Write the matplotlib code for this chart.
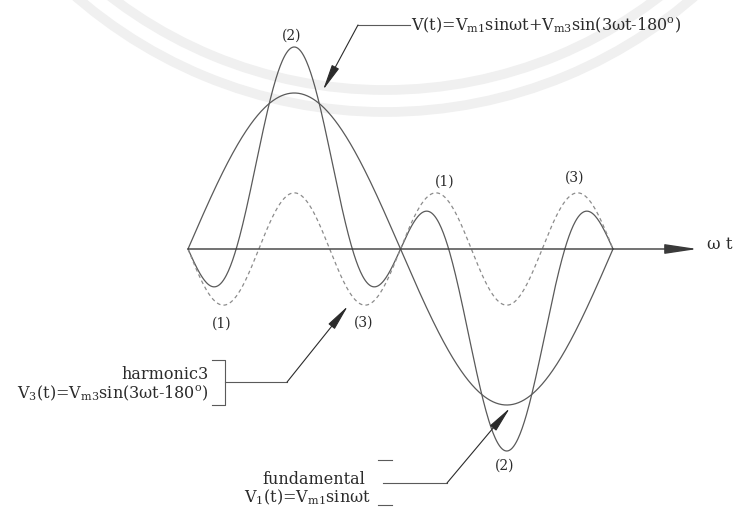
import numpy as np
import matplotlib.pyplot as plt
from matplotlib.patches import Arc

plt.rcParams['font.family'] = ['DejaVu Serif']
plt.rcParams['mathtext.default'] = 'regular'

# amplitudes (per unit of the fundamental)
fund_amp = 1.0          # V_m1 of the fundamental curve
harm_amp = 0.36         # V_m3 of the 3rd harmonic (dashed)
sum_fund_amp = 0.73     # components used for the resultant curve
sum_harm_amp = 0.565
harm_order = 3
harm_phase_deg = -180

wt = np.linspace(0, 2 * np.pi, 600)
fund = fund_amp * np.sin(wt)
harm = harm_amp * np.sin(harm_order * wt + np.radians(harm_phase_deg))
total = sum_fund_amp * np.sin(wt) + sum_harm_amp * np.sin(harm_order * wt + np.radians(harm_phase_deg))

# peak markers: label, ωt, v
peak_tags = ["(2)", "(1)", "(3)", "(1)", "(3)", "(2)"]
peak_x = [1.53, 0.50, 2.60, 3.79, 5.71, 4.68]
peak_y = [1.37, -0.48, -0.47, 0.43, 0.46, -1.39]

line_c = '#5a5a5a'
text_c = '#2b2b2b'
fs = 11.5

fig = plt.figure(figsize=(7.34, 5.07), dpi=100)

# faint circular watermark bands in the background
bg = fig.add_axes([0, 0, 1, 1], zorder=0)
bg.set_xlim(0, 734)
bg.set_ylim(507, 0)
bg.axis('off')
for r in (450, 472):
    bg.add_patch(Arc((385, -360), 2 * r, 2 * r, theta1=0, theta2=360,
                     lw=7, color='#f0f0f0'))

ax = fig.add_axes([0, 0, 1, 1], zorder=1)
ax.patch.set_visible(False)
sx = 425 / (2 * np.pi)
sy = 156
ax.set_xlim(-188 / sx, (734 - 188) / sx)
ax.set_ylim(-(507 - 249) / sy, 249 / sy)
ax.axis('off')

# ωt axis with arrow
ax.annotate('', xy=(7.53, 0), xytext=(0, 0),
            arrowprops=dict(arrowstyle='-|>,head_length=2.0,head_width=0.3',
                            color='#3a3a3a', lw=1.0, shrinkA=0, shrinkB=0))
ax.text(7.67, 0.03, 'ω t', fontsize=12, color=text_c, va='center', ha='left')

ax.plot(wt, fund, color=line_c, lw=0.9)
ax.plot(wt, total, color=line_c, lw=0.9)
ax.plot(wt, harm, color='#8c8c8c', lw=0.9, ls=(0, (3, 2.5)))

for tag, x, y in zip(peak_tags, peak_x, peak_y):
    ax.text(x, y, tag, fontsize=10, color=text_c, ha='center', va='center')

arrow_kw = dict(arrowstyle='-|>,head_length=1.6,head_width=0.25',
                color='#2b2b2b', lw=0.8, shrinkA=0, shrinkB=0)

# resultant label
ax.plot([2.513, 3.282], [1.436, 1.436], color=line_c, lw=0.8)
ax.annotate('', xy=(1.996, 1.019), xytext=(2.513, 1.436), arrowprops=arrow_kw)
ax.text(3.30, 1.436, r'V(t)=V$_{m1}$sinωt+V$_{m3}$sin(3ωt-180$^{o}$)',
        fontsize=fs, color=text_c, ha='left', va='center')

# harmonic label with bracket
ax.plot([0.355, 0.547, 0.547, 0.355], [-0.712, -0.712, -1.0, -1.0],
        color=line_c, lw=0.8)
ax.plot([0.547, 1.464], [-0.853, -0.853], color=line_c, lw=0.8)
ax.annotate('', xy=(2.365, -0.365), xytext=(1.464, -0.853), arrowprops=arrow_kw)
ax.text(0.31, -0.805, 'harmonic3', fontsize=fs, color=text_c, ha='right', va='center')
ax.text(0.31, -0.925, r'V$_{3}$(t)=V$_{m3}$sin(3ωt-180$^{o}$)', fontsize=fs,
        color=text_c, ha='right', va='center')

# fundamental label with bracket
ax.plot([2.81, 3.02], [-1.353, -1.353], color=line_c, lw=0.8)
ax.plot([2.81, 3.02], [-1.64, -1.64], color=line_c, lw=0.8)
ax.plot([2.883, 3.829], [-1.50, -1.50], color=line_c, lw=0.8)
ax.annotate('', xy=(4.760, -1.019), xytext=(3.829, -1.50), arrowprops=arrow_kw)
ax.text(2.62, -1.478, 'fundamental', fontsize=fs, color=text_c, ha='right', va='center')
ax.text(2.70, -1.59, r'V$_{1}$(t)=V$_{m1}$sinωt', fontsize=fs, color=text_c,
        ha='right', va='center')

fig.savefig('out.png', dpi=100)
